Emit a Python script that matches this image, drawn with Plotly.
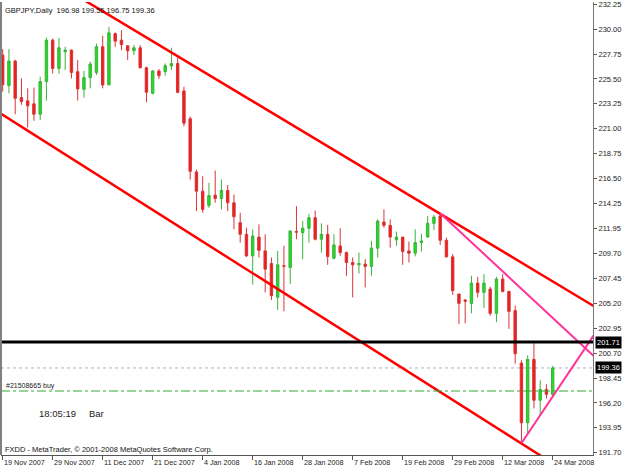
import plotly.graph_objects as go

# ---- data ----
opens = [227.66, 224.90, 227.12, 223.81, 223.52, 223.25, 222.31, 225.26, 229.01, 226.45,
         227.96, 228.11, 226.16, 224.56, 225.62, 226.09, 228.41, 224.96, 229.60, 229.01,
         228.50, 228.05, 228.32, 226.52, 224.20, 226.22, 226.16, 226.67, 226.90, 224.42,
         221.90, 217.09, 215.35, 214.06, 214.99, 214.69, 215.41, 214.30, 212.50, 211.45,
         209.50, 211.20, 209.95, 208.81, 205.75, 208.60, 208.45, 211.70, 211.60, 212.00,
         212.95, 211.00, 211.45, 209.29, 210.40, 209.80, 208.90, 208.69, 208.75, 208.54,
         210.20, 212.56, 212.26, 210.95, 211.20, 209.95, 209.74, 210.70, 211.20, 212.44,
         213.10, 210.91, 209.41, 206.05, 205.50, 205.20, 207.04, 206.20, 206.50, 204.30,
         207.40, 206.28, 204.55, 199.80, 194.40, 200.14, 196.44, 197.41, 196.98]
highs = [228.20, 228.20, 227.24, 225.55, 224.65, 224.72, 225.71, 229.24, 229.15, 229.22,
         228.41, 228.15, 227.21, 226.22, 227.06, 228.70, 229.40, 230.21, 229.70, 229.91,
         228.56, 228.56, 228.56, 226.60, 226.31, 226.40, 226.90, 228.32, 227.51, 224.80,
         222.10, 217.30, 216.70, 216.10, 217.22, 216.40, 215.90, 215.05, 213.40, 212.05,
         211.90, 212.35, 211.45, 209.35, 209.95, 210.40, 211.80, 214.00, 212.65, 213.31,
         213.60, 212.44, 212.30, 211.45, 212.00, 209.89, 209.35, 209.80, 209.20, 210.85,
         212.80, 213.70, 212.80, 211.70, 211.20, 210.80, 211.90, 211.50, 213.10, 213.19,
         213.31, 211.15, 209.65, 206.05, 205.60, 207.70, 207.60, 207.85, 206.70, 207.60,
         207.85, 206.35, 205.00, 200.05, 200.50, 201.60, 198.25, 197.89, 199.55]
lows = [224.35, 224.20, 222.31, 223.16, 221.11, 221.72, 221.77, 223.55, 226.00, 225.98,
        226.31, 225.55, 223.55, 223.81, 224.65, 225.86, 224.65, 224.96, 228.41, 228.11,
        227.21, 227.66, 226.45, 223.39, 224.11, 225.50, 225.80, 226.31, 224.20, 221.20,
        216.40, 213.55, 213.40, 213.85, 214.30, 213.70, 213.55, 211.90, 210.70, 209.40,
        206.90, 209.35, 206.20, 205.51, 204.61, 204.48, 206.95, 211.00, 209.20, 210.70,
        210.90, 209.80, 208.69, 209.20, 209.50, 207.70, 205.75, 207.90, 206.65, 207.70,
        209.35, 212.05, 210.25, 210.40, 208.69, 208.90, 209.44, 209.89, 211.15, 211.82,
        210.49, 209.35, 205.97, 203.35, 203.40, 204.30, 205.75, 204.79, 204.10, 203.50,
        206.20, 202.90, 199.75, 192.55, 193.45, 195.70, 195.10, 196.60, 196.75]
closes = [224.98, 227.12, 223.75, 223.45, 223.07, 222.31, 225.26, 229.01, 226.45, 228.32,
          228.11, 226.09, 224.60, 225.62, 226.85, 228.41, 224.96, 229.67, 228.92, 228.61,
          228.05, 228.32, 226.52, 224.29, 226.22, 225.80, 226.70, 226.90, 224.29, 221.50,
          217.15, 215.35, 213.70, 214.96, 214.69, 215.41, 214.30, 213.04, 211.45, 209.50,
          211.30, 210.00, 208.30, 205.90, 208.69, 208.55, 211.75, 211.65, 212.00, 212.95,
          211.00, 211.45, 209.44, 210.49, 209.80, 208.90, 208.69, 208.80, 208.54, 210.20,
          212.65, 212.26, 211.20, 211.20, 209.89, 209.74, 210.70, 210.85, 212.44, 213.01,
          210.91, 209.41, 206.35, 205.20, 205.40, 207.04, 206.20, 207.04, 204.30, 207.40,
          206.28, 204.48, 200.65, 194.40, 200.14, 196.44, 197.41, 196.98, 199.36]
bars = list(range(len(opens)))

date_tick_bars = [0, 8, 16, 24, 32, 40, 48, 56, 64, 72, 80, 88]
date_tick_labels = ["19 Nov 2007", "29 Nov 2007", "11 Dec 2007", "21 Dec 2007", "4 Jan 2008",
                    "16 Jan 2008", "28 Jan 2008", "7 Feb 2008", "19 Feb 2008", "29 Feb 2008",
                    "12 Mar 2008", "24 Mar 2008"]

price_ticks = [232.25, 230.00, 227.75, 225.50, 223.25, 221.00, 218.75, 216.50, 214.25,
               211.95, 209.70, 207.45, 205.20, 202.95, 200.70, 198.45, 196.20, 193.95, 191.70]
price_tick_labels = ["%.2f" % v for v in price_ticks]

# trend lines (anchor points: bar index, price)
upper_channel_x, upper_channel_y = [10, 100], [233.66, 203.12]
lower_channel_x, lower_channel_y = [-1, 90], [222.61, 190.02]
pink_down_x, pink_down_y = [70, 100], [213.36, 197.58]
pink_up_x, pink_up_y = [83, 100], [192.55, 206.90]

level_line = 201.71
bid_price = 199.36
order_price = 197.28

header = "GBPJPY,Daily  196.98 199.55 196.75 199.36"
footer = "FXDD - MetaTrader, \u00a9 2001-2008 MetaQuotes Software Corp."
order_label = "#21508665 buy"

X_RANGE = [-0.27, 94.45]
Y_RANGE = [191.49, 232.46]
FONT = "Liberation Sans"

fig = go.Figure()
fig.add_trace(go.Candlestick(
    x=bars, open=opens, high=highs, low=lows, close=closes,
    increasing=dict(fillcolor="#1ee01e", line=dict(color="#3cb03c", width=1)),
    decreasing=dict(fillcolor="#ee1c1c", line=dict(color="#d83434", width=1)),
    whiskerwidth=0, hoverinfo="skip", showlegend=False,
))

for xs, ys, col, w in [(upper_channel_x, upper_channel_y, "#ff0000", 2.5),
                       (lower_channel_x, lower_channel_y, "#ff0000", 2.5),
                       (pink_down_x, pink_down_y, "#ff3399", 2),
                       (pink_up_x, pink_up_y, "#ff3399", 2)]:
    fig.add_trace(go.Scatter(x=xs, y=ys, mode="lines", line=dict(color=col, width=w),
                             hoverinfo="skip", showlegend=False))

shapes = [
    dict(type="line", xref="paper", yref="y", x0=0, x1=1, y0=bid_price, y1=bid_price,
         line=dict(color="#aab2cc", width=1, dash="dot"), layer="below"),
    dict(type="line", xref="paper", yref="y", x0=0, x1=1, y0=order_price, y1=order_price,
         line=dict(color="#33aa33", width=1.2, dash="dashdot")),
    dict(type="line", xref="paper", yref="y", x0=0, x1=1, y0=level_line, y1=level_line,
         line=dict(color="#000000", width=3)),
    dict(type="line", xref="paper", yref="paper", x0=0, x1=0, y0=0, y1=1,
         line=dict(color="#808080", width=2)),
]

annotations = []
for b, t in zip(date_tick_bars, date_tick_labels):
    annotations.append(dict(x=b, xref="x", y=0, yref="paper", yanchor="top", xanchor="left",
                            text=t, showarrow=False, xshift=-1, yshift=-1,
                            font=dict(family=FONT, size=7.2, color="#222")))
annotations += [
    dict(x=0, xref="paper", y=1, yref="paper", xanchor="left", yanchor="top", xshift=2, yshift=-2,
         text=header, showarrow=False, font=dict(family=FONT, size=7.5, color="#111")),
    dict(x=0, xref="paper", y=0, yref="paper", xanchor="left", yanchor="middle", xshift=2, yshift=6,
         text=footer, showarrow=False, font=dict(family=FONT, size=7.5, color="#111")),
    dict(x=0, xref="paper", y=order_price, yref="y", xanchor="left", yanchor="bottom", xshift=3,
         yshift=-1, text=order_label, showarrow=False, font=dict(family=FONT, size=7, color="#222")),
    dict(x=0, xref="paper", y=0, yref="paper", xanchor="left", yanchor="middle", xshift=36, yshift=42,
         text="18:05:19", showarrow=False, font=dict(family=FONT, size=9.5, color="#222")),
    dict(x=0, xref="paper", y=0, yref="paper", xanchor="left", yanchor="middle", xshift=86, yshift=42,
         text="Bar", showarrow=False, font=dict(family=FONT, size=9.5, color="#222")),
]
for v in [level_line, bid_price]:
    annotations.append(dict(x=1, xref="paper", y=v, yref="y", xanchor="left", yanchor="middle",
                            xshift=2, text="%.2f" % v, showarrow=False, bgcolor="#000000",
                            borderpad=1, font=dict(family=FONT, size=7.5, color="#ffffff")))

fig.update_layout(
    width=625, height=469,
    margin=dict(l=1, r=32, t=0, b=14),
    paper_bgcolor="white", plot_bgcolor="white",
    showlegend=False, boxgap=0.45,
    shapes=shapes, annotations=annotations,
    xaxis=dict(range=X_RANGE, showgrid=False, zeroline=False, rangeslider=dict(visible=False),
               tickmode="array", tickvals=date_tick_bars, ticktext=[""] * len(date_tick_bars),
               ticks="outside", ticklen=4, tickcolor="#555", showline=True, linecolor="#555",
               linewidth=1, fixedrange=True),
    yaxis=dict(range=Y_RANGE, side="right", showgrid=False, zeroline=False,
               tickmode="array", tickvals=price_ticks, ticktext=price_tick_labels,
               ticks="outside", ticklen=3, tickcolor="#555", showline=True, linecolor="#777",
               linewidth=1, tickfont=dict(family=FONT, size=7.5, color="#222"), fixedrange=True,
               ticklabeloverflow="allow"),
)

fig.write_html("out.html")
